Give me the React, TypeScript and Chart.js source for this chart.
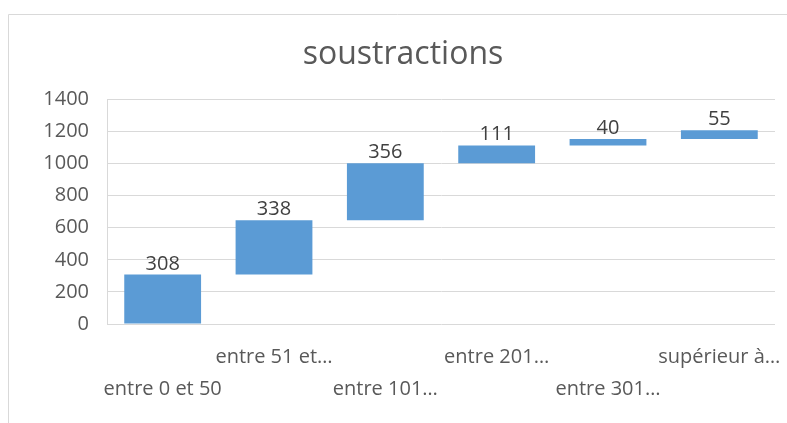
import React, { useEffect, useRef } from "react";
import { Chart, registerables } from "chart.js";

Chart.register(...registerables);

const categories = [
  "entre 0 et 50",
  "entre 51 et…",
  "entre 101…",
  "entre 201…",
  "entre 301…",
  "supérieur à…",
];
const values = [308, 338, 356, 111, 40, 55];
const yTicks = [0, 200, 400, 600, 800, 1000, 1200, 1400];
const title = "soustractions";

const FONT = "'Open Sans', 'Noto Sans', sans-serif";

export default function App() {
  const ref = useRef<HTMLCanvasElement | null>(null);

  useEffect(() => {
    const canvas = ref.current;
    if (!canvas) return;

    const floating: [number, number][] = [];
    let acc = 0;
    for (const v of values) {
      floating.push([acc, acc + v]);
      acc += v;
    }

    const frame = {
      id: "frame",
      beforeDraw(chart: any) {
        const ctx = chart.ctx;
        ctx.save();
        ctx.strokeStyle = "#d9d9d9";
        ctx.lineWidth = 1;
        ctx.beginPath();
        ctx.moveTo(8.5, 423);
        ctx.lineTo(8.5, 14.5);
        ctx.lineTo(787, 14.5);
        ctx.stroke();
        ctx.restore();
      },
    };

    const labels = {
      id: "valueLabels",
      afterDatasetsDraw(chart: any) {
        const ctx = chart.ctx;
        const meta = chart.getDatasetMeta(0);
        ctx.save();
        ctx.font = `20px ${FONT}`;
        ctx.fillStyle = "#404040";
        ctx.textAlign = "center";
        ctx.textBaseline = "alphabetic";
        meta.data.forEach((bar: any, i: number) => {
          const top = Math.min(bar.y, bar.base);
          ctx.fillText(String(values[i]), bar.x, top - 5);
        });
        ctx.restore();
      },
    };

    const chart = new Chart(canvas, {
      type: "bar",
      data: {
        labels: categories,
        datasets: [
          {
            data: floating as any,
            backgroundColor: "#5b9bd5",
            borderWidth: 0,
            barPercentage: 0.69,
            categoryPercentage: 1,
          },
        ],
      },
      options: {
        responsive: false,
        animation: false,
        devicePixelRatio: 1,
        layout: { padding: { left: 31, right: 12, top: 14, bottom: 1 } },
        plugins: {
          legend: { display: false },
          tooltip: { enabled: false },
          title: {
            display: true,
            text: title,
            color: "#595959",
            font: { family: FONT, size: 32, weight: "normal", lineHeight: 1.2 },
            padding: { top: 22, bottom: 25 },
          },
        },
        scales: {
          x: {
            grid: { display: false, drawTicks: false },
            border: { display: false },
            afterFit: (scale: any) => {
              scale.paddingLeft = 0;
              scale.paddingRight = 0;
            },
            ticks: {
              color: "#595959",
              font: { family: FONT, size: 20, lineHeight: 1.6 },
              padding: 17,
              autoSkip: false,
              maxRotation: 0,
              minRotation: 0,
              callback: (_v: any, i: number) =>
                i % 2 === 0 ? ["", categories[i]] : [categories[i]],
            },
          },
          y: {
            min: 0,
            max: 1400,
            afterBuildTicks: (scale: any) => {
              scale.ticks = yTicks.map((v) => ({ value: v }));
            },
            afterFit: (scale: any) => {
              scale.width = 76;
            },
            grid: { color: "#d9d9d9", lineWidth: 1, drawTicks: false },
            border: { display: true, color: "#d9d9d9" },
            ticks: {
              color: "#595959",
              font: { family: FONT, size: 20 },
              padding: 18,
              callback: (v: any) => String(v),
            },
          },
        },
      },
      plugins: [frame, labels],
    });

    return () => chart.destroy();
  }, []);

  return (
    <canvas
      ref={ref}
      width={787}
      height={423}
      style={{ position: "fixed", left: 0, top: 0, width: 787, height: 423 }}
    />
  );
}
